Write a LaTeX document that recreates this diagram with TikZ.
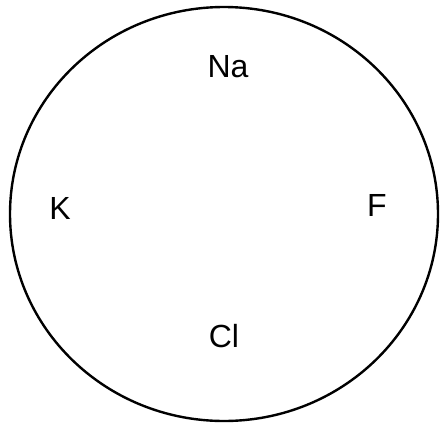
\documentclass[tikz,border=0pt]{standalone}
\usepackage{fontspec}
\setmainfont{Liberation Sans}
\tikzset{
  ionring/.style={draw, line width=2.4pt},
  ionlabel/.style={font=\fontsize{32}{36}\selectfont, inner sep=0pt}
}
\begin{document}
\begin{tikzpicture}[x=1pt, y=-1pt]
  \useasboundingbox (0,0) rectangle (441,423);
  \draw[ionring] (224,214) ellipse [x radius=214, y radius=207];
  \node[ionlabel] (na) at (228,67) {Na};
  \node[ionlabel] (k) at (60,208) {K};
  \node[ionlabel] (f) at (377,205) {F};
  \node[ionlabel] (cl) at (224,336) {Cl};
\end{tikzpicture}
\end{document}
